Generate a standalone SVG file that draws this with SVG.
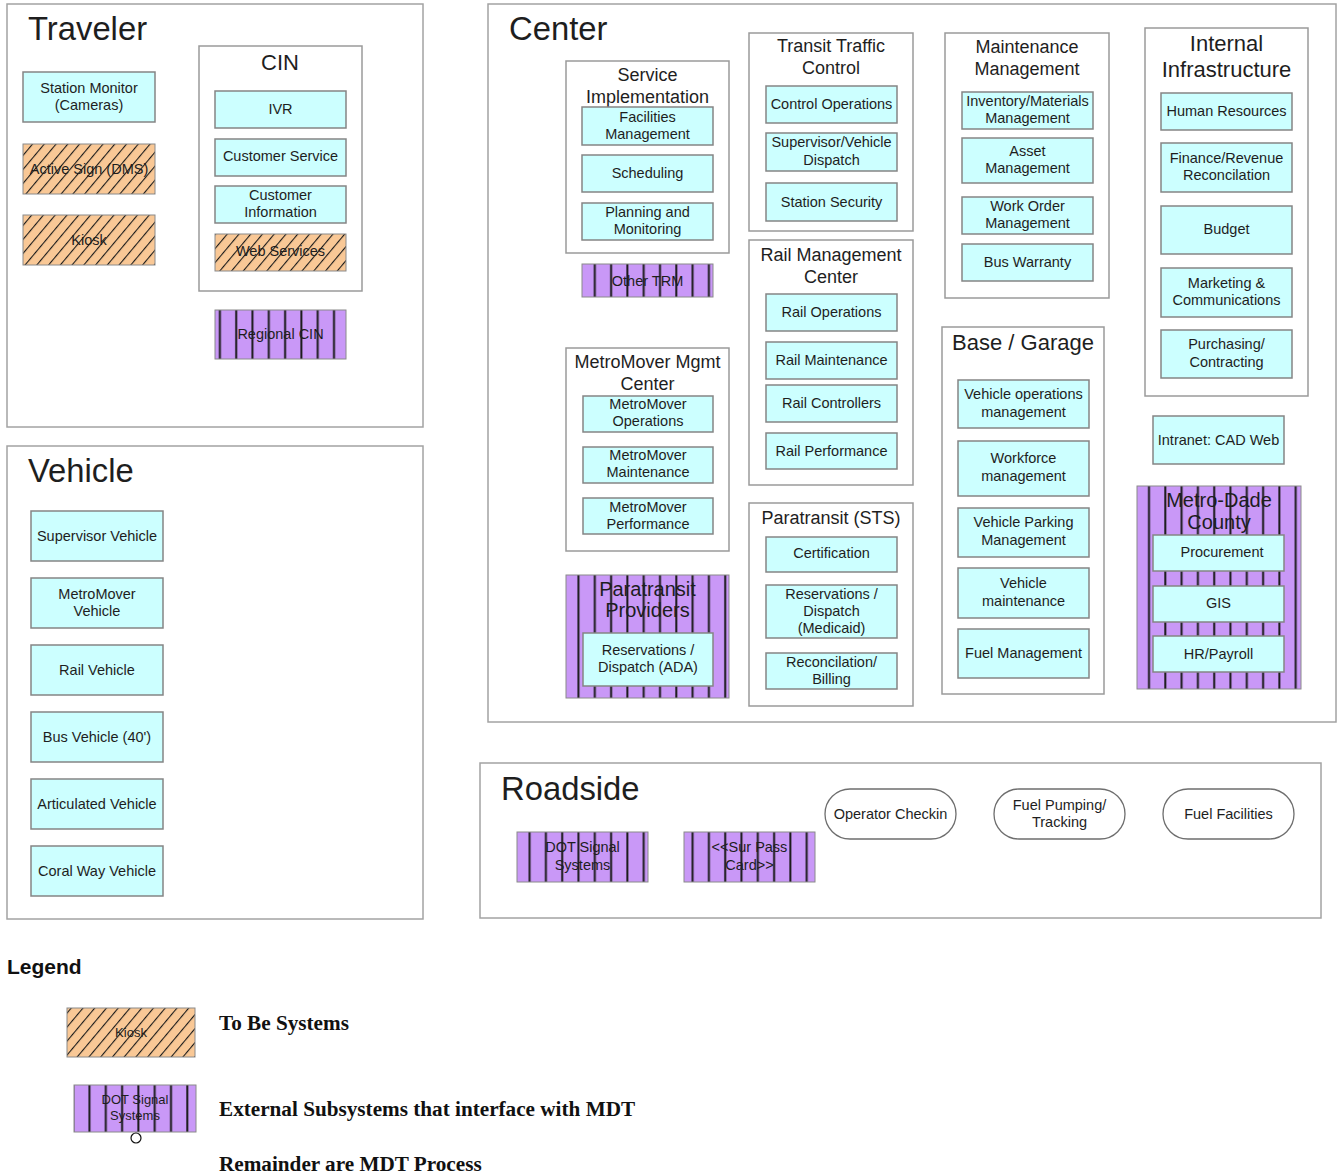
<svg xmlns="http://www.w3.org/2000/svg" width="1337" height="1175" viewBox="0 0 1337 1175">
  <defs>
    <!-- diagonal hatch for planned systems -->
    <pattern id="hatchOrange" patternUnits="userSpaceOnUse" width="9" height="9" patternTransform="rotate(40)">
      <rect width="9" height="9" fill="#f9c896"/>
      <line x1="0" y1="0" x2="0" y2="9" stroke="#1a1a1a" stroke-width="2.2"/>
    </pattern>
    <!-- vertical stripes for external subsystems -->
    <pattern id="stripePurple" patternUnits="userSpaceOnUse" width="16.3" height="20">
      <rect width="16.3" height="20" fill="#c998f7"/>
      <line x1="8" y1="0" x2="8" y2="20" stroke="#1a1a1a" stroke-width="2"/>
    </pattern>
  </defs>
  <style>
    .panel { fill: #ffffff; stroke: #a3a3a3; stroke-width: 1.5; }
    .group { fill: #ffffff; stroke: #9a9a9a; stroke-width: 1.5; }
    .box { fill: #ccffff; stroke: #858585; stroke-width: 1.5; }
    .tobe { fill: url(#hatchOrange); stroke: #8a8a8a; stroke-width: 1; }
    .ext { fill: url(#stripePurple); stroke: #8a8a8a; stroke-width: 1; }
    .oval { fill: #ffffff; stroke: #6e6e6e; stroke-width: 1.3; }
    text { font-family: "Liberation Sans", Arial, sans-serif; fill: #1e1e1e; }
    .big { font-size: 32.8px; }
    .h22 { font-size: 22px; text-anchor: middle; }
    .h20 { font-size: 20px; text-anchor: middle; }
    .h18 { font-size: 18px; text-anchor: middle; }
    .t { font-size: 14.5px; text-anchor: middle; }
    .ts { font-size: 13px; text-anchor: middle; }
    .leg { font-family: "Liberation Serif", "Times New Roman", serif; font-weight: bold; font-size: 21.2px; fill: #111; }
  </style>

  <rect width="1337" height="1175" fill="#ffffff"/>

  <!-- Traveler -->
  <g id="traveler">
    <rect class="panel" x="7" y="4" width="416" height="423"/>
    <text class="big" x="28" y="40">Traveler</text>
    <g id="station-monitor">
      <rect class="box" x="23" y="72" width="132" height="50"/>
      <text class="t" x="89" y="93">Station Monitor</text>
      <text class="t" x="89" y="110">(Cameras)</text>
    </g>
    <g id="active-sign">
      <rect class="tobe" x="23" y="144" width="132" height="50"/>
      <text class="t" x="89" y="174">Active Sign (DMS)</text>
    </g>
    <g id="kiosk">
      <rect class="tobe" x="23" y="215" width="132" height="50"/>
      <text class="t" x="89" y="245">Kiosk</text>
    </g>
    <g id="cin">
      <rect class="group" x="199" y="46" width="163" height="245"/>
      <text class="h22" x="280" y="70">CIN</text>
      <g id="ivr">
        <rect class="box" x="215" y="91" width="131" height="37"/>
        <text class="t" x="280.5" y="114">IVR</text>
      </g>
      <g id="customer-service">
        <rect class="box" x="215" y="139" width="131" height="37"/>
        <text class="t" x="280.5" y="161">Customer Service</text>
      </g>
      <g id="customer-information">
        <rect class="box" x="215" y="186" width="131" height="37"/>
        <text class="t" x="280.5" y="200">Customer</text>
        <text class="t" x="280.5" y="217">Information</text>
      </g>
      <g id="web-services">
        <rect class="tobe" x="215" y="234" width="131" height="37"/>
        <text class="t" x="280.5" y="256">Web Services</text>
      </g>
    </g>
    <g id="regional-cin">
      <rect class="ext" x="215" y="310" width="131" height="49"/>
      <text class="t" x="280.5" y="339">Regional CIN</text>
    </g>
  </g>

  <!-- Vehicle -->
  <g id="vehicle">
    <rect class="panel" x="7" y="446" width="416" height="473"/>
    <text class="big" x="28" y="482">Vehicle</text>
    <g id="supervisor-vehicle">
      <rect class="box" x="31" y="511" width="132" height="50"/>
      <text class="t" x="97" y="541">Supervisor Vehicle</text>
    </g>
    <g id="metromover-vehicle">
      <rect class="box" x="31" y="578" width="132" height="50"/>
      <text class="t" x="97" y="599">MetroMover</text>
      <text class="t" x="97" y="616">Vehicle</text>
    </g>
    <g id="rail-vehicle">
      <rect class="box" x="31" y="645" width="132" height="50"/>
      <text class="t" x="97" y="675">Rail Vehicle</text>
    </g>
    <g id="bus-vehicle">
      <rect class="box" x="31" y="712" width="132" height="50"/>
      <text class="t" x="97" y="742">Bus Vehicle (40')</text>
    </g>
    <g id="articulated-vehicle">
      <rect class="box" x="31" y="779" width="132" height="50"/>
      <text class="t" x="97" y="809">Articulated Vehicle</text>
    </g>
    <g id="coral-way-vehicle">
      <rect class="box" x="31" y="846" width="132" height="50"/>
      <text class="t" x="97" y="876">Coral Way Vehicle</text>
    </g>
  </g>

  <!-- Center -->
  <g id="center">
    <rect class="panel" x="488" y="4" width="848" height="718"/>
    <text class="big" x="509" y="40">Center</text>

    <g id="service-implementation">
      <rect class="group" x="566" y="61" width="163" height="192"/>
      <text class="h18" x="647.5" y="81">Service</text>
      <text class="h18" x="647.5" y="103">Implementation</text>
      <g id="facilities-management">
        <rect class="box" x="582" y="107" width="131" height="38"/>
        <text class="t" x="647.5" y="122">Facilities</text>
        <text class="t" x="647.5" y="139">Management</text>
      </g>
      <g id="scheduling">
        <rect class="box" x="582" y="155" width="131" height="37"/>
        <text class="t" x="647.5" y="178">Scheduling</text>
      </g>
      <g id="planning-monitoring">
        <rect class="box" x="582" y="203" width="131" height="37"/>
        <text class="t" x="647.5" y="217">Planning and</text>
        <text class="t" x="647.5" y="234">Monitoring</text>
      </g>
    </g>
    <g id="other-trm">
      <rect class="ext" x="582" y="264" width="131" height="33"/>
      <text class="t" x="647.5" y="286">Other TRM</text>
    </g>

    <g id="transit-traffic-control">
      <rect class="group" x="749" y="33" width="164" height="198"/>
      <text class="h18" x="831" y="52">Transit Traffic</text>
      <text class="h18" x="831" y="74">Control</text>
      <g id="control-operations">
        <rect class="box" x="766" y="86" width="131" height="37"/>
        <text class="t" x="831.5" y="109">Control Operations</text>
      </g>
      <g id="supervisor-dispatch">
        <rect class="box" x="766" y="133" width="131" height="38"/>
        <text class="t" x="831.5" y="147">Supervisor/Vehicle</text>
        <text class="t" x="831.5" y="165">Dispatch</text>
      </g>
      <g id="station-security">
        <rect class="box" x="766" y="183" width="131" height="38"/>
        <text class="t" x="831.5" y="207">Station Security</text>
      </g>
    </g>

    <g id="rail-management-center">
      <rect class="group" x="749" y="240" width="164" height="245"/>
      <text class="h18" x="831" y="261">Rail Management</text>
      <text class="h18" x="831" y="283">Center</text>
      <g id="rail-operations">
        <rect class="box" x="766" y="294" width="131" height="37"/>
        <text class="t" x="831.5" y="317">Rail Operations</text>
      </g>
      <g id="rail-maintenance">
        <rect class="box" x="766" y="342" width="131" height="37"/>
        <text class="t" x="831.5" y="365">Rail Maintenance</text>
      </g>
      <g id="rail-controllers">
        <rect class="box" x="766" y="385" width="131" height="37"/>
        <text class="t" x="831.5" y="408">Rail Controllers</text>
      </g>
      <g id="rail-performance">
        <rect class="box" x="766" y="433" width="131" height="36"/>
        <text class="t" x="831.5" y="456">Rail Performance</text>
      </g>
    </g>

    <g id="metromover-mgmt-center">
      <rect class="group" x="566" y="348" width="163" height="203"/>
      <text class="h18" x="647.5" y="368">MetroMover Mgmt</text>
      <text class="h18" x="647.5" y="390">Center</text>
      <g id="metromover-operations">
        <rect class="box" x="583" y="396" width="130" height="36"/>
        <text class="t" x="648" y="409">MetroMover</text>
        <text class="t" x="648" y="426">Operations</text>
      </g>
      <g id="metromover-maintenance">
        <rect class="box" x="583" y="447" width="130" height="36"/>
        <text class="t" x="648" y="460">MetroMover</text>
        <text class="t" x="648" y="477">Maintenance</text>
      </g>
      <g id="metromover-performance">
        <rect class="box" x="583" y="498" width="130" height="36"/>
        <text class="t" x="648" y="512">MetroMover</text>
        <text class="t" x="648" y="529">Performance</text>
      </g>
    </g>

    <g id="paratransit-providers">
      <rect class="ext" x="566" y="575" width="163" height="123"/>
      <text class="h20" x="647.5" y="596">Paratransit</text>
      <text class="h20" x="647.5" y="617">Providers</text>
      <g id="reservations-ada">
        <rect class="box" x="583" y="633" width="130" height="53"/>
        <text class="t" x="648" y="655">Reservations /</text>
        <text class="t" x="648" y="672">Dispatch (ADA)</text>
      </g>
    </g>

    <g id="paratransit-sts">
      <rect class="group" x="749" y="503" width="164" height="203"/>
      <text class="h18" x="831" y="524">Paratransit (STS)</text>
      <g id="certification">
        <rect class="box" x="766" y="537" width="131" height="35"/>
        <text class="t" x="831.5" y="558">Certification</text>
      </g>
      <g id="reservations-medicaid">
        <rect class="box" x="766" y="585" width="131" height="53"/>
        <text class="t" x="831.5" y="599">Reservations /</text>
        <text class="t" x="831.5" y="616">Dispatch</text>
        <text class="t" x="831.5" y="633">(Medicaid)</text>
      </g>
      <g id="reconcilation-billing">
        <rect class="box" x="766" y="653" width="131" height="36"/>
        <text class="t" x="831.5" y="667">Reconcilation/</text>
        <text class="t" x="831.5" y="684">Billing</text>
      </g>
    </g>

    <g id="maintenance-management">
      <rect class="group" x="945" y="33" width="164" height="265"/>
      <text class="h18" x="1027" y="53">Maintenance</text>
      <text class="h18" x="1027" y="75">Management</text>
      <g id="inventory-materials">
        <rect class="box" x="962" y="92" width="131" height="37"/>
        <text class="t" x="1027.5" y="106">Inventory/Materials</text>
        <text class="t" x="1027.5" y="123">Management</text>
      </g>
      <g id="asset-management">
        <rect class="box" x="962" y="138" width="131" height="45"/>
        <text class="t" x="1027.5" y="156">Asset</text>
        <text class="t" x="1027.5" y="173">Management</text>
      </g>
      <g id="work-order-management">
        <rect class="box" x="962" y="197" width="131" height="37"/>
        <text class="t" x="1027.5" y="211">Work Order</text>
        <text class="t" x="1027.5" y="228">Management</text>
      </g>
      <g id="bus-warranty">
        <rect class="box" x="962" y="244" width="131" height="37"/>
        <text class="t" x="1027.5" y="267">Bus Warranty</text>
      </g>
    </g>

    <g id="internal-infrastructure">
      <rect class="group" x="1145" y="28" width="163" height="368"/>
      <text class="h22" x="1226.5" y="51">Internal</text>
      <text class="h22" x="1226.5" y="77">Infrastructure</text>
      <g id="human-resources">
        <rect class="box" x="1161" y="93" width="131" height="37"/>
        <text class="t" x="1226.5" y="116">Human Resources</text>
      </g>
      <g id="finance-revenue">
        <rect class="box" x="1161" y="143" width="131" height="49"/>
        <text class="t" x="1226.5" y="163">Finance/Revenue</text>
        <text class="t" x="1226.5" y="180">Reconcilation</text>
      </g>
      <g id="budget">
        <rect class="box" x="1161" y="206" width="131" height="48"/>
        <text class="t" x="1226.5" y="234">Budget</text>
      </g>
      <g id="marketing-communications">
        <rect class="box" x="1161" y="268" width="131" height="49"/>
        <text class="t" x="1226.5" y="288">Marketing &amp;</text>
        <text class="t" x="1226.5" y="305">Communications</text>
      </g>
      <g id="purchasing-contracting">
        <rect class="box" x="1161" y="330" width="131" height="48"/>
        <text class="t" x="1226.5" y="349">Purchasing/</text>
        <text class="t" x="1226.5" y="367">Contracting</text>
      </g>
    </g>

    <g id="intranet-cad-web">
      <rect class="box" x="1153" y="416" width="131" height="48"/>
      <text class="t" x="1218.5" y="445">Intranet: CAD Web</text>
    </g>

    <g id="base-garage">
      <rect class="group" x="942" y="327" width="162" height="367"/>
      <text class="h22" x="1023" y="350">Base / Garage</text>
      <g id="vehicle-operations-management">
        <rect class="box" x="958" y="380" width="131" height="48"/>
        <text class="t" x="1023.5" y="399">Vehicle operations</text>
        <text class="t" x="1023.5" y="417">management</text>
      </g>
      <g id="workforce-management">
        <rect class="box" x="958" y="441" width="131" height="55"/>
        <text class="t" x="1023.5" y="463">Workforce</text>
        <text class="t" x="1023.5" y="481">management</text>
      </g>
      <g id="vehicle-parking-management">
        <rect class="box" x="958" y="508" width="131" height="49"/>
        <text class="t" x="1023.5" y="527">Vehicle Parking</text>
        <text class="t" x="1023.5" y="545">Management</text>
      </g>
      <g id="vehicle-maintenance">
        <rect class="box" x="958" y="568" width="131" height="50"/>
        <text class="t" x="1023.5" y="588">Vehicle</text>
        <text class="t" x="1023.5" y="606">maintenance</text>
      </g>
      <g id="fuel-management">
        <rect class="box" x="958" y="629" width="131" height="49"/>
        <text class="t" x="1023.5" y="658">Fuel Management</text>
      </g>
    </g>

    <g id="metro-dade-county">
      <rect class="ext" x="1137" y="486" width="164" height="203"/>
      <text class="h20" x="1219" y="507">Metro-Dade</text>
      <text class="h20" x="1219" y="529">County</text>
      <g id="procurement">
        <rect class="box" x="1153" y="535" width="131" height="36"/>
        <text class="t" x="1222" y="557">Procurement</text>
      </g>
      <g id="gis">
        <rect class="box" x="1153" y="586" width="131" height="36"/>
        <text class="t" x="1218.5" y="608">GIS</text>
      </g>
      <g id="hr-payroll">
        <rect class="box" x="1153" y="636" width="131" height="36"/>
        <text class="t" x="1218.5" y="659">HR/Payroll</text>
      </g>
    </g>
  </g>

  <!-- Roadside -->
  <g id="roadside">
    <rect class="panel" x="480" y="763" width="841" height="155"/>
    <text class="big" x="501" y="800">Roadside</text>
    <g id="dot-signal-systems">
      <rect class="ext" x="517" y="832" width="131" height="50"/>
      <text class="t" x="582.5" y="852">DOT Signal</text>
      <text class="t" x="582.5" y="870">Systems</text>
    </g>
    <g id="sur-pass-card">
      <rect class="ext" x="684" y="832" width="131" height="50"/>
      <text class="t" x="749.5" y="852">&lt;&lt;Sur Pass</text>
      <text class="t" x="749.5" y="870">Card&gt;&gt;</text>
    </g>
    <g id="operator-checkin">
      <rect class="oval" x="825" y="789" width="131" height="50" rx="25" ry="25"/>
      <text class="t" x="890.5" y="819">Operator Checkin</text>
    </g>
    <g id="fuel-pumping-tracking">
      <rect class="oval" x="994" y="789" width="131" height="50" rx="25" ry="25"/>
      <text class="t" x="1059.5" y="810">Fuel Pumping/</text>
      <text class="t" x="1059.5" y="827">Tracking</text>
    </g>
    <g id="fuel-facilities">
      <rect class="oval" x="1163" y="789" width="131" height="50" rx="25" ry="25"/>
      <text class="t" x="1228.5" y="819">Fuel Facilities</text>
    </g>
  </g>

  <!-- no links are drawn between the subsystems -->
  <g id="connectors"></g>

  <!-- Legend -->
  <g id="legend">
    <text x="7" y="974" style="font-size:21px;font-weight:bold;fill:#111">Legend</text>
    <g id="legend-tobe">
      <rect class="tobe" x="67" y="1008" width="128" height="49"/>
      <text class="ts" x="131" y="1037">Kiosk</text>
    </g>
    <g id="legend-external">
      <rect class="ext" x="74" y="1085" width="122" height="47"/>
      <text class="ts" x="135" y="1104">DOT Signal</text>
      <text class="ts" x="135" y="1120">Systems</text>
      <circle cx="136" cy="1138" r="5" fill="#ffffff" stroke="#111" stroke-width="1.2"/>
    </g>
    <text class="leg" x="219" y="1030">To Be Systems</text>
    <text class="leg" x="219" y="1116">External Subsystems that interface with MDT</text>
    <text class="leg" x="219" y="1171">Remainder are MDT Process</text>
  </g>
</svg>
